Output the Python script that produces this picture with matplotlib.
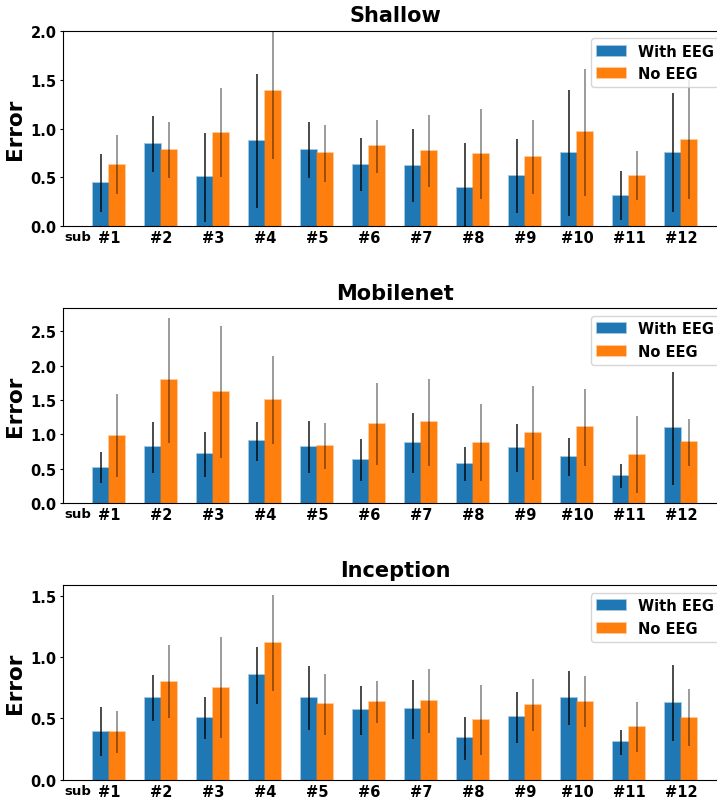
import numpy as np
import matplotlib
matplotlib.use("Agg")
import matplotlib.pyplot as plt
from matplotlib.colors import to_rgba

subjects = ["#1", "#2", "#3", "#4", "#5", "#6", "#7", "#8", "#9", "#10", "#11", "#12"]
series_labels = ["With EEG", "No EEG"]
titles = ["Shallow", "Mobilenet", "Inception"]

shallow_with = [0.44, 0.84, 0.50, 0.87, 0.78, 0.63, 0.62, 0.39, 0.51, 0.75, 0.31, 0.75]
shallow_with_err = [0.30, 0.29, 0.455, 0.69, 0.29, 0.275, 0.37, 0.46, 0.38, 0.65, 0.25, 0.61]
shallow_no = [0.63, 0.78, 0.955, 1.38, 0.745, 0.82, 0.77, 0.74, 0.71, 0.96, 0.515, 0.885]
shallow_no_err = [0.30, 0.29, 0.456, 0.69, 0.29, 0.272, 0.37, 0.46, 0.38, 0.65, 0.25, 0.61]

mobilenet_with = [0.515, 0.81, 0.71, 0.90, 0.815, 0.625, 0.875, 0.57, 0.795, 0.665, 0.395, 1.085]
mobilenet_with_err = [0.228, 0.37, 0.325, 0.286, 0.374, 0.30, 0.437, 0.25, 0.35, 0.275, 0.17, 0.82]
mobilenet_no = [0.98, 1.79, 1.615, 1.50, 0.83, 1.15, 1.175, 0.875, 1.02, 1.105, 0.70, 0.885]
mobilenet_no_err = [0.607, 0.91, 0.964, 0.643, 0.34, 0.60, 0.63, 0.56, 0.69, 0.56, 0.56, 0.34]

inception_with = [0.39, 0.665, 0.50, 0.85, 0.665, 0.565, 0.575, 0.337, 0.508, 0.665, 0.304, 0.625]
inception_with_err = [0.20, 0.19, 0.17, 0.235, 0.26, 0.20, 0.24, 0.174, 0.21, 0.22, 0.10, 0.31]
inception_no = [0.39, 0.80, 0.75, 1.115, 0.615, 0.633, 0.64, 0.486, 0.607, 0.636, 0.432, 0.505]
inception_no_err = [0.17, 0.30, 0.41, 0.39, 0.247, 0.17, 0.26, 0.284, 0.21, 0.21, 0.205, 0.23]

panels = [
    (shallow_with, shallow_with_err, shallow_no, shallow_no_err),
    (mobilenet_with, mobilenet_with_err, mobilenet_no, mobilenet_no_err),
    (inception_with, inception_with_err, inception_no, inception_no_err),
]
ylims = [(0, 2.0), (0, 2.835), (0, 1.584)]
yticks = [[0, 0.5, 1.0, 1.5, 2.0], [0, 0.5, 1.0, 1.5, 2.0, 2.5], [0, 0.5, 1.0, 1.5]]

W, H = 717, 803
fig = plt.figure(figsize=(W / 100, H / 100), dpi=100)

# axes boxes in pixels: (left, right, top, bottom)
boxes = [(63, 727, 32, 227), (63, 727, 309.3, 504), (63, 727, 586.3, 780.7)]

blue = "#1f77b4"
orange = "#ff7f0e"
width = 0.3
x = np.arange(1, len(subjects) + 1)

for (vals, box, ylim, yt, title) in zip(panels, boxes, ylims, yticks, titles):
    l, r, t, b = box
    ax = fig.add_axes([l / W, 1 - b / H, (r - l) / W, (b - t) / H])
    w, we, n, ne = vals
    ax.bar(x - width / 2, w, width, yerr=we, color=blue,
           edgecolor=to_rgba(blue, 0.5), linewidth=1.2,
           error_kw=dict(ecolor="black", elinewidth=1.1, alpha=0.9),
           label=series_labels[0], zorder=2)
    ax.bar(x + width / 2, n, width, yerr=ne, color=orange,
           edgecolor=to_rgba(orange, 0.5), linewidth=1.2,
           error_kw=dict(ecolor="black", elinewidth=1.1, alpha=0.5),
           label=series_labels[1], zorder=2)
    ax.set_xlim(0.115, 12.885)
    ax.set_ylim(*ylim)
    ax.set_yticks(yt)
    ax.set_yticklabels([f"{v:.1f}" for v in yt], fontweight="bold", fontsize=10.5)
    ax.set_xticks(x)
    ax.set_xticklabels(subjects, fontweight="bold", fontsize=10.5)
    ax.tick_params(axis="x", length=0, pad=3)
    ax.tick_params(axis="y", length=2.5, pad=2)
    ax.set_ylabel("Error", fontweight="bold", fontsize=15.5, labelpad=4)
    ax.set_title(title, fontweight="bold", fontsize=15, pad=7)
    ax.annotate("sub", xy=(0, 0), xycoords="axes fraction", xytext=(1.2, -3.2),
                textcoords="offset points", ha="left", va="top",
                fontweight="bold", fontsize=9.5)
    ax.legend(loc="upper right", prop=dict(weight="bold", size=10.5))

fig.savefig("out.png", dpi=100)
